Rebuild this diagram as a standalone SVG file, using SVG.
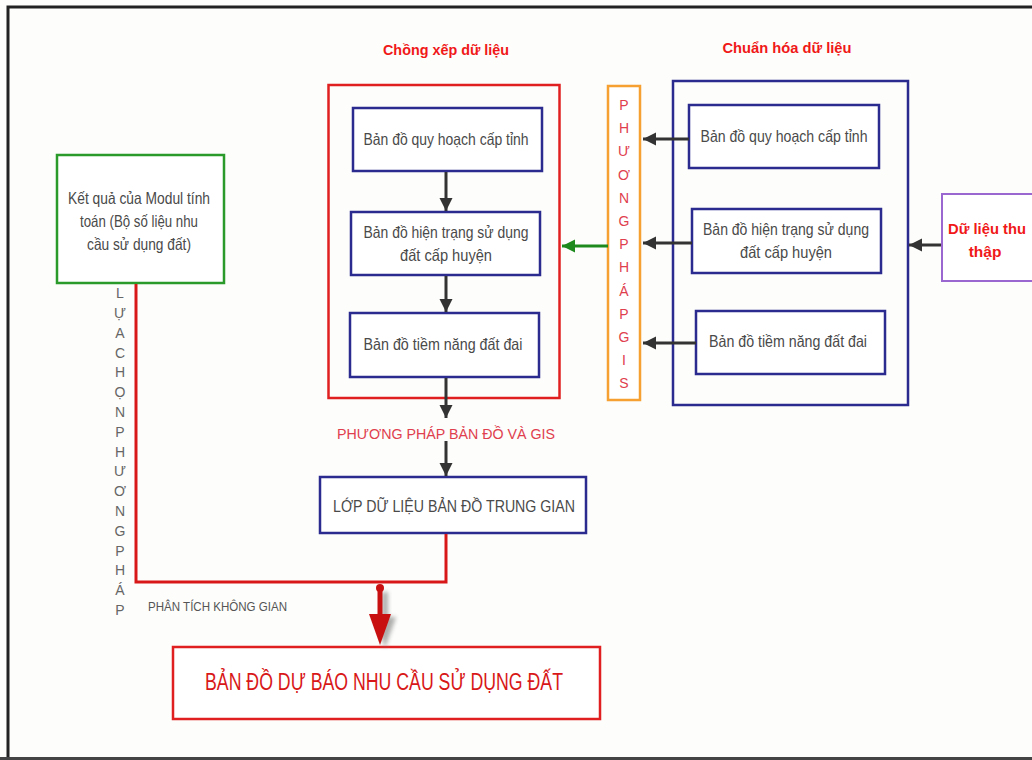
<svg xmlns="http://www.w3.org/2000/svg" width="1032" height="760" viewBox="0 0 1032 760">
<defs>
<marker id="ah" viewBox="0 0 10 10" refX="10" refY="5" markerWidth="4.4" markerHeight="4.4" markerUnits="strokeWidth" orient="auto"><path d="M0,0 L10,5 L0,10 Z" fill="#333"/></marker>
<marker id="ahg" viewBox="0 0 10 10" refX="10" refY="5" markerWidth="4.4" markerHeight="4.4" markerUnits="strokeWidth" orient="auto"><path d="M0,0 L10,5 L0,10 Z" fill="#1e8a1e"/></marker>
<filter id="sh" x="-50%" y="-20%" width="200%" height="150%"><feGaussianBlur stdDeviation="2"/></filter>
</defs>
<style>
.bl{fill:#fff;stroke:#2b2b8f;stroke-width:2.5}
.t{font-family:"Liberation Sans",Arial,sans-serif;font-size:16.5px;fill:#4a4a4a;text-anchor:middle}
.ttl{font-family:"Liberation Sans",Arial,sans-serif;font-size:15.5px;font-weight:bold;fill:#f01818;text-anchor:middle}
.v{font-family:"Liberation Sans",Arial,sans-serif;font-size:14px;text-anchor:middle}
.c{fill:none;stroke:#333;stroke-width:3}
</style>
<rect x="0" y="0" width="1032" height="760" fill="#fdfdfb"/>
<path d="M8,760 V7 H1032" fill="none" stroke="#222" stroke-width="3"/>
<line x1="0" y1="758.5" x2="1032" y2="758.5" stroke="#444" stroke-width="3"/>

<g id="title-chong">
<text class="ttl" x="446" y="55" textLength="126" lengthAdjust="spacingAndGlyphs">Chồng xếp dữ liệu</text>
</g>
<g id="title-chuan">
<text class="ttl" x="787" y="53" textLength="129" lengthAdjust="spacingAndGlyphs">Chuẩn hóa dữ liệu</text>
</g>

<g id="chong-group">
<rect x="328.5" y="85" width="231" height="313" fill="none" stroke="#e02020" stroke-width="2.5"/>
</g>
<g id="l1">
<rect class="bl" x="353" y="108" width="189" height="63"/>
<text class="t" x="446" y="145" textLength="165" lengthAdjust="spacingAndGlyphs">Bản đồ quy hoạch cấp tỉnh</text>
</g>
<g id="l2">
<rect class="bl" x="351" y="212" width="189" height="63"/>
<text class="t" x="446" y="238" textLength="165" lengthAdjust="spacingAndGlyphs">Bản đồ hiện trạng sử dụng</text>
<text class="t" x="446" y="261" textLength="92" lengthAdjust="spacingAndGlyphs">đất cấp huyện</text>
</g>
<g id="l3">
<rect class="bl" x="350" y="313" width="189" height="64"/>
<text class="t" x="443" y="350" textLength="159" lengthAdjust="spacingAndGlyphs">Bản đồ tiềm năng đất đai</text>
</g>

<g id="phuong-phap-gis">
<rect x="608" y="86" width="32" height="314" fill="#fff" stroke="#f5a030" stroke-width="2.5"/>
<g class="v" fill="#e0404e">
<text x="624" y="110">P</text><text x="624" y="133">H</text><text x="624" y="156">Ư</text><text x="624" y="180">Ơ</text><text x="624" y="203">N</text><text x="624" y="226">G</text><text x="624" y="249">P</text><text x="624" y="272">H</text><text x="624" y="296">Á</text><text x="624" y="319">P</text><text x="624" y="342">G</text><text x="624" y="365">I</text><text x="624" y="388">S</text>
</g>
</g>

<g id="chuan-group">
<rect x="673" y="81" width="235" height="324" fill="none" stroke="#2b2b8f" stroke-width="2.5"/>
</g>
<g id="r1">
<rect class="bl" x="689" y="105" width="190" height="63"/>
<text class="t" x="784" y="142" textLength="167" lengthAdjust="spacingAndGlyphs">Bản đồ quy hoạch cấp tỉnh</text>
</g>
<g id="r2">
<rect class="bl" x="692" y="209" width="189" height="64"/>
<text class="t" x="786" y="235" textLength="166" lengthAdjust="spacingAndGlyphs">Bản đồ hiện trạng sử dụng</text>
<text class="t" x="786" y="258" textLength="92" lengthAdjust="spacingAndGlyphs">đất cấp huyện</text>
</g>
<g id="r3">
<rect class="bl" x="696" y="311" width="189" height="63"/>
<text class="t" x="788" y="347" textLength="158" lengthAdjust="spacingAndGlyphs">Bản đồ tiềm năng đất đai</text>
</g>

<g id="du-lieu-thu-thap">
<rect x="942" y="194" width="100" height="87" fill="#fff" stroke="#9a66d0" stroke-width="2"/>
<text class="ttl" x="987" y="234" textLength="78" lengthAdjust="spacingAndGlyphs">Dữ liệu thu</text>
<text class="ttl" x="985" y="257">thập</text>
</g>

<g id="ket-qua">
<rect x="57" y="155" width="167" height="128" fill="#fff" stroke="#2a9a2a" stroke-width="2.5"/>
<text class="t" x="139" y="204" textLength="142" lengthAdjust="spacingAndGlyphs">Kết quả của Modul tính</text>
<text class="t" x="139" y="227" textLength="118" lengthAdjust="spacingAndGlyphs">toán (Bộ số liệu nhu</text>
<text class="t" x="139" y="250" textLength="104" lengthAdjust="spacingAndGlyphs">cầu sử dụng đất)</text>
</g>

<g id="lua-chon" class="v" fill="#666" font-size="13">
<text x="120" y="298">L</text><text x="120" y="318">Ự</text><text x="120" y="338">A</text><text x="120" y="358">C</text><text x="120" y="377">H</text><text x="120" y="397">Ọ</text><text x="120" y="417">N</text><text x="120" y="437">P</text><text x="120" y="457">H</text><text x="120" y="476">Ư</text><text x="120" y="496">Ơ</text><text x="120" y="516">N</text><text x="120" y="536">G</text><text x="120" y="556">P</text><text x="120" y="575">H</text><text x="120" y="595">Á</text><text x="120" y="615">P</text>
</g>

<g id="label-pp-bando">
<text x="446" y="439" font-family="Liberation Sans,Arial,sans-serif" font-size="15" fill="#e0404e" text-anchor="middle" textLength="218" lengthAdjust="spacingAndGlyphs">PHƯƠNG PHÁP BẢN ĐỒ VÀ GIS</text>
</g>

<g id="lop-du-lieu">
<rect class="bl" x="320" y="477" width="266" height="56"/>
<text class="t" x="454" y="512" textLength="242" lengthAdjust="spacingAndGlyphs">LỚP DỮ LIỆU BẢN ĐỒ TRUNG GIAN</text>
</g>

<g id="label-phan-tich">
<text x="148" y="611" font-family="Liberation Sans,Arial,sans-serif" font-size="12.5" fill="#555" textLength="139" lengthAdjust="spacingAndGlyphs">PHÂN TÍCH KHÔNG GIAN</text>
</g>

<g id="ban-do-du-bao">
<rect x="173" y="647" width="427" height="72" fill="#fff" stroke="#e02020" stroke-width="2.5"/>
<text x="384" y="690" font-family="Liberation Sans,Arial,sans-serif" font-size="23" fill="#d81818" text-anchor="middle" textLength="358" lengthAdjust="spacingAndGlyphs">BẢN ĐỒ DỰ BÁO NHU CẦU SỬ DỤNG ĐẤT</text>
</g>

<g id="connectors">
<line class="c" x1="446" y1="172" x2="446" y2="211" marker-end="url(#ah)"/>
<line class="c" x1="446" y1="276" x2="446" y2="312" marker-end="url(#ah)"/>
<line class="c" x1="446" y1="378" x2="446" y2="418" marker-end="url(#ah)"/>
<line class="c" x1="446" y1="441" x2="446" y2="476" marker-end="url(#ah)"/>
<line class="c" x1="689" y1="139" x2="643" y2="139" marker-end="url(#ah)"/>
<line class="c" x1="692" y1="243" x2="643" y2="243" marker-end="url(#ah)"/>
<line class="c" x1="696" y1="343" x2="643" y2="343" marker-end="url(#ah)"/>
<line class="c" x1="941" y1="245" x2="909" y2="245" marker-end="url(#ah)"/>
<line x1="608" y1="246" x2="562" y2="246" stroke="#1e8a1e" stroke-width="3" marker-end="url(#ahg)"/>
<path d="M136,284 V582 H446 V534" fill="none" stroke="#d81818" stroke-width="3"/>
<g id="big-arrow">
<path d="M382,592 H388 V617 H396 L385,648 L374,617 H382 Z" fill="#777" opacity="0.6" filter="url(#sh)"/>
<circle cx="380" cy="588" r="4" fill="#c81010"/>
<line x1="380" y1="588" x2="380" y2="616" stroke="#c81010" stroke-width="5"/>
<path d="M369,614 H391 L380,645 Z" fill="#c81010"/>
</g>
</g>
</svg>
